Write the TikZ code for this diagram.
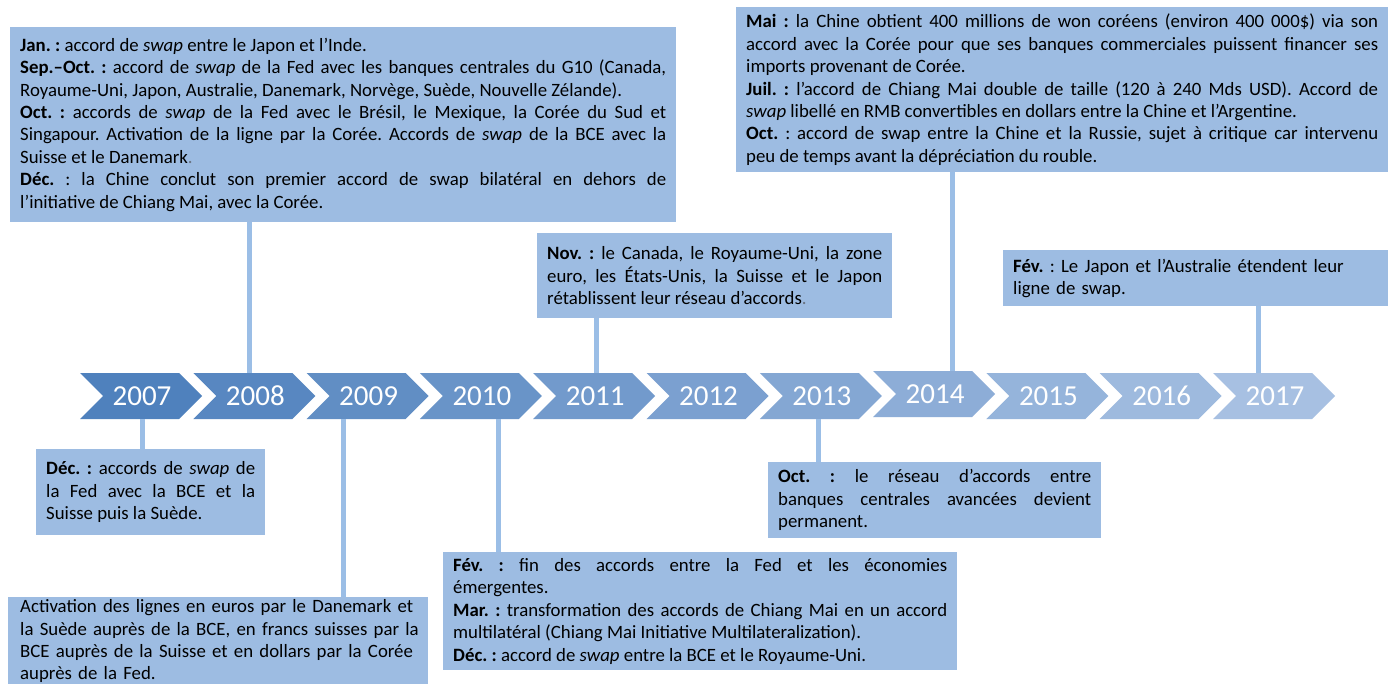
\documentclass[tikz,border=0pt]{standalone}
\usepackage{fontspec}
\setmainfont{Carlito}
\hyphenpenalty=10000
\exhyphenpenalty=10000
\tolerance=9000
\frenchspacing
\definecolor{boxblue}{RGB}{157,188,226}
\definecolor{linkblue}{RGB}{155,190,230}
\definecolor{chevA}{RGB}{79,129,189}
\definecolor{chevB}{RGB}{167,192,226}
\definecolor{dotgray}{RGB}{105,115,130}
\newcommand{\gdot}{{\color{dotgray}.}}
\tikzset{
  evbox/.style={fill=boxblue, anchor=north west, inner xsep=10pt, inner ysep=0pt,
    align=justify, font=\fontsize{18.8}{22.4}\selectfont\frenchspacing, text=black},
  link/.style={draw=linkblue, line width=5pt},
  yearlbl/.style={text=white, font=\fontsize{29}{30}\selectfont, inner sep=0pt},
}
\begin{document}
\begin{tikzpicture}[x=1pt,y=-1pt]
\useasboundingbox (0,0) rectangle (1394,684);
\fill[white] (0,0) rectangle (1394,684);

% chevrons
\foreach \i in {0,...,10} {
  \pgfmathsetmacro\xo{80+113.3*\i}
  \pgfmathtruncatemacro\yr{2007+\i}
  \pgfmathtruncatemacro\pct{100-10*\i}
  \pgfmathsetmacro\yt{ifthenelse(\i==7,371,373)}
  \pgfmathsetmacro\ym{\yt+23}
  \pgfmathsetmacro\yb{\yt+46}
  \fill[chevA!\pct!chevB] (\xo,\yt) -- (\xo+99,\yt) -- (\xo+122,\ym) -- (\xo+99,\yb)
     -- (\xo,\yb) -- (\xo+23,\ym) -- cycle;
  \node[yearlbl] (y\yr) at (\xo+62,\ym) {\yr};
}

% connector ends on chevrons
\coordinate (t2008) at (249,373);
\coordinate (t2011) at (596,373);
\coordinate (t2014) at (952,371);
\coordinate (t2017) at (1258,373);
\coordinate (b2007) at (142,419);
\coordinate (b2009) at (343,419);
\coordinate (b2010) at (498,419);
\coordinate (b2013) at (818,419);

% boxes
\node[evbox, text width=646pt, minimum width=666pt, minimum height=195pt] (bA) at (10,27) {%
\textbf{Jan. :} accord de \emph{swap} entre le Japon et l’Inde.\\
\textbf{Sep.–Oct. :} accord de \emph{swap} de la Fed avec les banques centrales du G10 (Canada,\linebreak
Royaume-Uni, Japon, Australie, Danemark, Norvège, Suède, Nouvelle Zélande).\\
\textbf{Oct. :} accords de \emph{swap} de la Fed avec le Brésil, le Mexique, la Corée du Sud et\linebreak
Singapour. Activation de la ligne par la Corée. Accords de \emph{swap} de la BCE avec la\linebreak
Suisse et le Danemark\gdot\\
\textbf{Déc.} : la Chine conclut son premier accord de swap bilatéral en dehors de\linebreak
l’initiative de Chiang Mai, avec la Corée.};

\node[evbox, text width=632pt, minimum width=652pt, minimum height=165pt] (bB) at (736,7) {%
\textbf{Mai :} la Chine obtient 400 millions de won coréens (environ 400~000\$) via son\linebreak
accord avec la Corée pour que ses banques commerciales puissent financer ses\linebreak
imports provenant de Corée.\\
\textbf{Juil. :} l’accord de Chiang Mai double de taille (120 à 240 Mds USD). Accord de\linebreak
\emph{swap} libellé en RMB convertibles en dollars entre la Chine et l’Argentine.\\
\textbf{Oct.} : accord de swap entre la Chine et la Russie, sujet à critique car intervenu\linebreak
peu de temps avant la dépréciation du rouble.};

\node[evbox, text width=335pt, minimum width=355pt, minimum height=85pt] (bC) at (537,233) {%
\textbf{Nov. :} le Canada, le Royaume-Uni, la zone\linebreak
euro, les États-Unis, la Suisse et le Japon\linebreak
rétablissent leur réseau d’accords\gdot};

\node[evbox, align=left, text width=365pt, minimum width=385pt, minimum height=56pt] (bD) at (1003,250) {%
\textbf{Fév.} : Le Japon et l’Australie étendent leur\\
ligne de swap.};

\node[evbox, text width=209pt, minimum width=229pt, minimum height=86pt] (bE) at (36,449) {%
\textbf{Déc. :} accords de \emph{swap} de\linebreak
la Fed avec la BCE et la\linebreak
Suisse puis la Suède.};

\node[evbox, align=left, inner xsep=7pt, inner ysep=0pt, text width=406pt, minimum width=420pt, minimum height=88pt] (bF) at (8,597) {%
\hspace*{5pt}Activation des lignes en euros par le Danemark et\\
\hspace*{5pt}la Suède auprès de la BCE, en francs suisses par la\\
\hspace*{5pt}BCE auprès de la Suisse et en dollars par la Corée\\
\hspace*{5pt}auprès de la Fed.};

\node[evbox, text width=494pt, minimum width=514pt, minimum height=118pt] (bG) at (443,552) {%
\textbf{Fév. :} fin des accords entre la Fed et les économies\linebreak
émergentes.\\
\textbf{Mar. :} transformation des accords de Chiang Mai en un accord\linebreak
multilatéral (Chiang Mai Initiative Multilateralization).\\
\textbf{Déc. :} accord de \emph{swap} entre la BCE et le Royaume-Uni.};

\node[evbox, text width=313pt, minimum width=333pt, minimum height=76pt] (bH) at (768,462) {%
\textbf{Oct. :} le réseau d’accords entre\linebreak
banques centrales avancées devient\linebreak
permanent.};

% connectors
\draw[link] (t2008 |- bA.south) -- (t2008);
\draw[link] (t2011 |- bC.south) -- (t2011);
\draw[link] (t2014 |- bB.south) -- (t2014);
\draw[link] (t2017 |- bD.south) -- (t2017);
\draw[link] (b2007) -- (b2007 |- bE.north);
\draw[link] (b2009) -- (b2009 |- bF.north);
\draw[link] (b2010) -- (b2010 |- bG.north);
\draw[link] (b2013) -- (b2013 |- bH.north);
\end{tikzpicture}
\end{document}
